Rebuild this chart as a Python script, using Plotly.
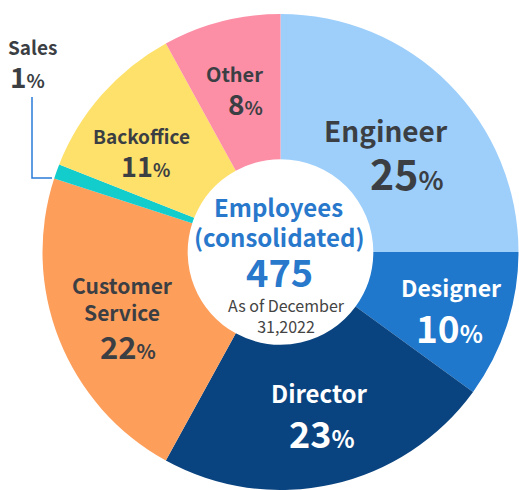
import plotly.graph_objects as go

# slice data (clockwise from 12 o'clock)
categories = ["Engineer", "Designer", "Director", "Customer Service", "Sales", "Backoffice", "Other"]
shares = [25, 10, 23, 22, 1, 11, 8]
colors = ["#9ecffb", "#1f78cc", "#0a4480", "#fd9e5b", "#13cccc", "#fee16a", "#fc8fa6"]

total_employees = 475
as_of = "As of December<br>31,2022"

W, H = 519, 490
FONT = "Noto Sans CJK JP"
DARK = "#3b3f44"


def px(x, y):
    return x / W, 1 - y / H


fig = go.Figure(
    go.Pie(
        labels=categories,
        values=shares,
        marker=dict(colors=colors, line=dict(width=0)),
        hole=0.39,
        sort=False,
        direction="clockwise",
        rotation=0,
        textinfo="none",
        hoverinfo="label+percent",
        domain=dict(x=[42 / W, 1], y=[0, 1 - 14 / H]),
        showlegend=False,
    )
)

# label placement: name pos, name size, number pos, number size, % size, text color
label_style = {
    "Engineer": ((386, 130), 28, (406, 172), 41, 26, DARK),
    "Designer": ((451, 287), 23, (449, 327), 37, 24, "white"),
    "Director": ((319, 392), 24, (322, 432), 36, 24, "white"),
    "Customer Service": ((122, 298), 21, (128, 345), 31, 20, DARK),
    "Sales": ((33, 46), 19, (27, 76), 28, 19, DARK),
    "Backoffice": ((141, 135), 19, (145, 165), 27, 18, DARK),
    "Other": ((234, 73), 20, (245, 103), 28, 19, DARK),
}

annotations = []
for name, share in zip(categories, shares):
    (nx, ny), nsize, (vx, vy), vsize, psize, col = label_style[name]
    text_name = name.replace(" ", "<br>")
    x, y = px(nx, ny)
    annotations.append(dict(
        x=x, y=y, xref="paper", yref="paper", showarrow=False,
        text=text_name, xanchor="center", yanchor="middle",
        font=dict(family=FONT, size=nsize, color=col, weight="bold"),
    ))
    x, y = px(vx, vy)
    annotations.append(dict(
        x=x, y=y, xref="paper", yref="paper", showarrow=False,
        text=f"{share}<span style='font-size:{psize}px'>%</span>",
        xanchor="center", yanchor="middle",
        font=dict(family=FONT, size=vsize, color=col, weight="bold"),
    ))

# centre text
BLUE = "#2878cc"
for text, (cx, cy), size, color, weight in [
    ("Employees", (278, 207), 24, BLUE, "bold"),
    ("(consolidated)", (279, 236), 24, BLUE, "bold"),
    (str(total_employees), (279, 270), 38, BLUE, "bold"),
    (as_of, (286, 315), 16, "#444444", "normal"),
]:
    x, y = px(cx, cy)
    annotations.append(dict(
        x=x, y=y, xref="paper", yref="paper", showarrow=False, text=text,
        xanchor="center", yanchor="middle",
        font=dict(family=FONT, size=size, color=color, weight=weight),
    ))

# leader line for the thin Sales slice
x0, y0 = px(32, 97)
x1, y1 = px(32, 178)
x2, y2 = px(52, 178)
fig.add_shape(type="path", xref="paper", yref="paper",
              path=f"M {x0} {y0} L {x1} {y1} L {x2} {y2}",
              line=dict(color="#2a7bd6", width=1.5))

fig.update_layout(
    width=W, height=H,
    margin=dict(l=0, r=0, t=0, b=0),
    paper_bgcolor="white",
    annotations=annotations,
)

# drop the default 8px page margin so the figure sits at the window corner
fig.write_html("out.html", config={"displayModeBar": False},
               post_script="document.body.style.margin='0px';")
